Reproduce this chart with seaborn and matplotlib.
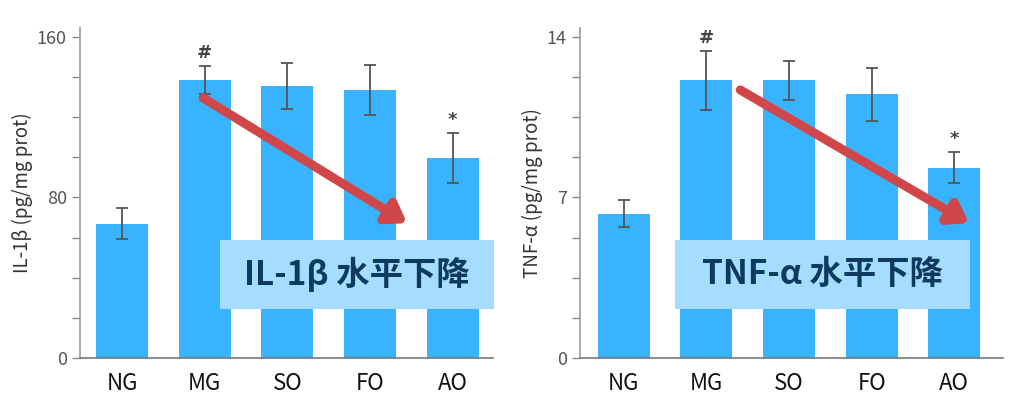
import numpy as np
import pandas as pd
import matplotlib
matplotlib.use('Agg')
import matplotlib.pyplot as plt
import seaborn as sns
from matplotlib.patches import Rectangle

# ── DATA ──────────────────────────────────────────────
groups   = ['NG', 'MG', 'SO', 'FO', 'AO']
il1b     = [67, 138.5, 135.5, 133.5, 99.5]
il1b_err = [7.5, 7.0, 11.5, 12.5, 12.5]
tnfa     = [6.3, 12.1, 12.1, 11.5, 8.3]
tnfa_err = [0.6, 1.3, 0.85, 1.15, 0.68]
marks    = ['', '#', '', '', '*']

panels = [
    dict(vals=il1b, err=il1b_err, ylabel='IL-1β (pg/mg prot)', ymax=160,
         box_text='IL-1β 水平下降'),
    dict(vals=tnfa, err=tnfa_err, ylabel='TNF-α (pg/mg prot)', ymax=14,
         box_text='TNF-α 水平下降'),
]

# ── STYLE ─────────────────────────────────────────────
sns.set_style('ticks')
plt.rcParams['font.family'] = ['Noto Sans CJK SC', 'DejaVu Sans']
BAR = '#38b4fe'
BOX = '#a6dcff'
ARROW = '#d0474a'
NAVY = '#0e3a5f'

fig = plt.figure(figsize=(10.18, 4.03), dpi=100)
ax_pos = [[0.0786, 0.1117, 0.4057, 0.819],
          [0.5697, 0.1117, 0.4155, 0.819]]
xlims = [(-0.51, 4.49), (-0.53, 4.59)]
# arrow (x0, y0-frac, x1, y1-frac) and box (x0, x1, y0-frac, y1-frac), in data x / fraction of ymax
arrows = [(0.98, 0.81, 3.45, 0.42), (1.41, 0.835, 4.18, 0.42)]
boxes  = [(1.18, 4.50, 0.152, 0.368), (0.62, 4.19, 0.152, 0.368)]

for i, p in enumerate(panels):
    ax = fig.add_axes(ax_pos[i])
    df = pd.DataFrame({'group': groups, 'value': p['vals']})
    sns.barplot(data=df, x='group', y='value', color=BAR, saturation=1,
                width=0.63, ax=ax, errorbar=None, linewidth=0)
    ax.errorbar(range(len(groups)), p['vals'], yerr=p['err'], fmt='none',
                ecolor='#555555', elinewidth=1.3, capsize=4, capthick=1.3, zorder=3)
    ymax = p['ymax']
    for j, m in enumerate(marks):
        if m:
            ax.text(j, p['vals'][j] + p['err'][j] + ymax * 0.012, m,
                    ha='center', va='bottom', fontsize=13, fontweight='bold',
                    color='#444444', family='DejaVu Sans')

    ax.set_xlim(*xlims[i])
    ax.set_ylim(0, ymax * 1.028)
    ax.set_yticks(np.linspace(0, ymax, 9))
    ax.set_yticklabels([f'{v:g}' if k in (0, 4, 8) else ''
                        for k, v in enumerate(np.linspace(0, ymax, 9))])
    ax.tick_params(axis='y', colors='#888888', labelcolor='#555555',
                   labelsize=13, length=6, width=1)
    ax.tick_params(axis='x', length=0, labelsize=16, labelcolor='#111111', pad=10)
    ax.set_xlabel('')
    ax.set_ylabel(p['ylabel'], fontsize=13.5, color='#333333', labelpad=3)
    sns.despine(ax=ax)
    ax.spines['left'].set_color('#999999')
    ax.spines['bottom'].set_color('#777777')
    ax.spines['left'].set_linewidth(1.2)
    ax.spines['bottom'].set_linewidth(1.2)

    # text box
    bx0, bx1, by0, by1 = boxes[i]
    ax.add_patch(Rectangle((bx0, by0 * ymax), bx1 - bx0, (by1 - by0) * ymax,
                           facecolor=BOX, edgecolor='none', zorder=4, clip_on=False))
    ax.text((bx0 + bx1) / 2, (by0 + by1) / 2 * ymax, p['box_text'],
            ha='center', va='center', fontsize=24, fontweight='bold',
            color=NAVY, zorder=5)

    # arrow
    ax0, ay0, ax1, ay1 = arrows[i]
    ax.annotate('', xy=(ax1, ay1 * ymax), xytext=(ax0, ay0 * ymax),
                arrowprops=dict(arrowstyle='-|>,head_length=1.1,head_width=0.75',
                                color=ARROW, lw=6.5, shrinkA=0, shrinkB=0),
                zorder=6)

plt.savefig('out.png', dpi=100)
